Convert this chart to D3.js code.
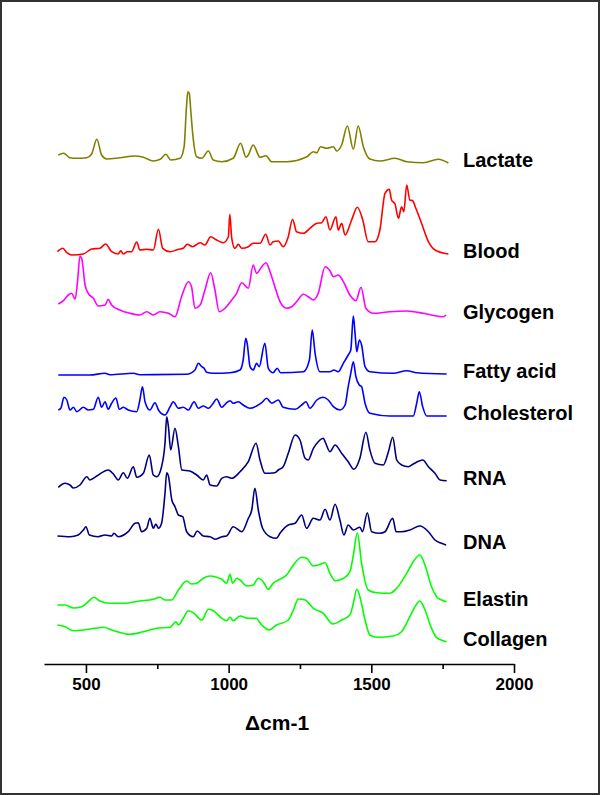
<!DOCTYPE html>
<html>
<head>
<meta charset="utf-8">
<script src="https://cdn.jsdelivr.net/npm/d3@7"></script>
<style>
  html, body { margin: 0; padding: 0; background: #fff; }
  svg { display: block; }
</style>
</head>
<body>
<svg id="chart" width="600" height="795"></svg>
<script>
// ---------------- DATA ----------------
const seriesNames = ["Lactate", "Blood", "Glycogen", "Fatty acid", "Cholesterol", "RNA", "DNA", "Elastin", "Collagen"];
const seriesColors = ["#808000", "#ff0000", "#ff00ff", "#0000ff", "#0000ff", "#000080", "#000080", "#00ff00", "#00ff00"];
const seriesOffsets = [501, 409, 347, 289, 248, 176, 119, 56, 22];
const xTicks = [500, 1000, 1500, 2000];
const xMinorTicks = [750, 1250, 1750];
const xTitle = "\u0394cm-1";

// [wavenumber (cm-1), relative intensity (a.u.)]
const lactate = [[403,8],[421,9.7],[444,5.3],[468,4.7],[503,5.3],[520,9],[538,23.7],[555,8],[573,4],[619,5.3],[672,7],[701,5.7],[736,2],[760,3.7],[780,8.7],[797,3],[830,4.7],[844,16.3],[852,55],[857,71.3],[862,69.7],[868,50],[874,29.7],[888,6.3],[906,4.7],[929,12],[946,3],[976,1.3],[1016,4.7],[1042,19.7],[1061,5.7],[1069,8],[1086,18],[1110,5.7],[1131,7.3],[1151,1.3],[1203,1.3],[1274,6.3],[1297,11.3],[1309,10.3],[1322,16.3],[1344,14.7],[1367,16.3],[1379,12],[1396,18],[1416,37],[1437,13.7],[1454,37],[1472,16.3],[1495,4],[1530,2],[1583,4.7],[1624,1.3],[1682,0.3],[1735,3.7],[1770,0]];
const blood = [[400,3.3],[419,6.7],[433,2.3],[450,0],[491,1],[520,6],[549,6.7],[569,11],[590,3.3],[613,1],[622,4.3],[631,1],[645,3.3],[660,3.3],[678,13],[689,5],[713,5.7],[736,5],[754,25.7],[769,6.7],[795,3.3],[824,5.7],[841,6.7],[855,10.7],[874,8.3],[900,12.3],[917,10],[937,18.3],[958,15],[981,12.3],[999,18.3],[1004,40.7],[1011,16.7],[1022,6.7],[1034,10.7],[1046,6.7],[1069,8.3],[1086,11.7],[1110,11.7],[1130,20.7],[1145,10],[1156,13.3],[1174,14],[1191,8.3],[1209,18.3],[1224,35.7],[1238,23.3],[1262,21.7],[1285,26.7],[1309,31.7],[1326,32.3],[1341,38.3],[1355,25],[1376,38.3],[1384,25],[1396,31.7],[1408,20],[1431,35],[1451,47.7],[1470,35],[1489,13.3],[1513,13.3],[1530,25],[1548,61.7],[1563,65.7],[1571,55],[1583,51],[1595,36.7],[1606,48.3],[1614,43.3],[1624,70],[1635,55],[1645,54.3],[1656,46.7],[1676,31.7],[1700,13.3],[1723,5],[1770,1]];
const glycogen = [[403,13],[421,16.3],[438,22],[450,23.7],[462,17.7],[471,37],[479,61],[485,58.7],[497,32],[508,23.7],[526,18.7],[543,11],[567,12],[578,17.7],[590,12],[619,7],[654,3.7],[689,2],[713,5.3],[736,2],[759,5.3],[789,3.7],[812,0.3],[835,20.3],[859,35.3],[870,30.3],[882,8.7],[900,12],[917,27],[937,44.3],[952,27],[967,5.3],[987,8.7],[1011,17],[1028,23.7],[1046,34.3],[1069,28.7],[1086,52],[1098,43.7],[1116,50.3],[1131,54.3],[1145,45.3],[1162,30.3],[1180,15.3],[1203,8.7],[1221,10.3],[1238,15.3],[1262,22.7],[1279,20.3],[1297,17],[1314,23.7],[1338,50.3],[1355,46.3],[1367,40.3],[1384,42],[1402,35.3],[1425,22],[1446,16.3],[1464,29.7],[1481,8.7],[1507,3.7],[1565,5.3],[1624,6],[1682,3.7],[1729,1],[1752,0.3],[1762,2]];
const fattyAcid = [[403,0],[514,0],[567,1.7],[584,0.3],[666,1.7],[689,0.3],[853,0.7],[882,5],[894,11.7],[906,8.3],[914,6.7],[923,2.7],[946,1.7],[1005,2.3],[1040,5],[1051,15],[1060,36.7],[1065,31.7],[1075,8.3],[1086,5],[1098,11.7],[1107,8.3],[1127,31.7],[1139,6.7],[1156,2.3],[1170,6.7],[1182,2.3],[1262,3.3],[1283,15],[1293,45],[1303,21.7],[1320,3.3],[1355,3.3],[1369,5],[1384,3.3],[1402,11.7],[1419,20],[1428,25],[1437,59],[1443,41.7],[1449,23.3],[1458,35],[1466,30],[1478,8.3],[1495,3.3],[1577,1.7],[1624,4.3],[1659,2.3],[1764,1]];
const cholesterol = [[403,6],[412,7.7],[423,18.7],[433,16],[444,6],[456,8.7],[468,4.3],[491,8.7],[508,6],[526,6.7],[543,18.7],[555,8.7],[567,14.3],[578,6.7],[590,12.7],[605,18],[617,6.7],[631,8.7],[648,6],[678,4.3],[689,16],[698,29.3],[707,14.3],[724,6],[742,13.3],[754,6],[777,1],[795,9.3],[806,14.3],[824,7.7],[841,8.7],[859,6],[879,14.3],[894,7.7],[911,10],[929,7.7],[946,12.7],[958,17],[976,8.7],[991,12.7],[1005,15.3],[1016,12.7],[1034,14.3],[1051,11],[1075,7.7],[1098,10],[1116,13.3],[1133,17.7],[1151,12.7],[1174,16],[1191,8.7],[1233,6.7],[1256,11],[1271,14.3],[1285,7.7],[1309,16],[1330,18.7],[1349,16],[1367,9.3],[1390,6],[1408,11],[1419,29.3],[1428,42.7],[1437,54.3],[1446,39.3],[1458,31],[1466,29.3],[1478,12.7],[1495,2.7],[1565,0],[1647,0],[1659,12.7],[1668,24.3],[1680,9.3],[1694,0],[1764,0]];
const rna = [[403,0.7],[427,4.7],[444,3],[456,0],[479,3],[503,11.3],[514,8],[538,12],[578,18],[596,14],[613,8],[631,15.3],[645,9.7],[666,21.3],[678,10.7],[701,14.7],[722,33],[736,13],[748,11.3],[765,21.3],[777,44.7],[783,71.3],[789,61.3],[797,38],[812,59.7],[824,41.3],[836,18],[864,17],[888,13],[911,8],[923,13],[935,3],[958,2],[976,9.7],[993,11.3],[1011,9.7],[1040,16.3],[1069,26.3],[1096,44.7],[1110,28],[1127,14.7],[1162,15.3],[1174,18],[1191,21.3],[1209,34.7],[1233,53],[1250,48],[1268,29.7],[1279,28],[1297,39.7],[1314,46.3],[1332,49.7],[1338,46.3],[1355,36.3],[1373,43],[1396,34.7],[1419,26.3],[1439,18.7],[1460,29.7],[1481,55.7],[1495,38],[1513,24.7],[1542,23],[1560,36.3],[1575,50.7],[1589,28],[1606,23],[1630,21.3],[1647,24],[1680,28],[1700,21.3],[1723,14.7],[1741,8],[1764,7.3]];
const dna = [[400,9],[444,8.3],[473,10],[491,15],[500,18.3],[512,10],[543,8.3],[567,10],[590,9],[598,11.7],[613,8.3],[648,13.3],[672,21.7],[683,22.3],[695,13.3],[713,16.7],[724,26.7],[736,16.7],[745,21],[754,16.7],[765,21.7],[777,51.7],[783,72.3],[789,69],[801,45],[812,38.3],[824,30],[839,28.3],[853,13.3],[876,8.3],[890,14],[911,9],[935,8.3],[952,5.7],[976,8.3],[993,9],[1016,18.3],[1046,13.3],[1069,26.7],[1081,35],[1092,56.7],[1104,35],[1119,16.7],[1145,8.3],[1168,6.7],[1180,11.7],[1209,20],[1233,21.7],[1256,30],[1273,16.7],[1297,26.7],[1320,25],[1338,35.7],[1355,25],[1373,40.7],[1390,25],[1404,10],[1419,20],[1437,15],[1460,17.7],[1469,13.3],[1486,32.3],[1501,13.3],[1530,11.7],[1548,13.3],[1575,26.7],[1587,13.3],[1606,13.3],[1635,15],[1670,19],[1700,13.3],[1723,5],[1746,1.7],[1762,0]];
const elastin = [[400,3],[427,3],[456,0],[485,1.3],[508,6.3],[528,10.7],[549,7],[584,4.7],[631,4.7],[689,7],[736,8.7],[759,10.7],[777,8],[800,8],[824,18],[853,27],[870,24],[888,24.7],[911,29.7],[935,32],[958,30.7],[976,28.7],[993,24.7],[1005,33.7],[1014,24.7],[1028,29.7],[1040,28],[1063,22],[1086,23],[1104,29.7],[1121,26.3],[1139,18.7],[1156,24.7],[1180,28.7],[1203,33],[1227,43],[1256,50.7],[1273,49.7],[1297,42],[1314,43],[1338,45.3],[1355,34.7],[1373,27.3],[1396,28.7],[1425,36.3],[1437,53],[1451,75],[1466,44.7],[1489,18],[1519,15.3],[1565,14.7],[1589,19.7],[1624,34.7],[1647,46.3],[1670,53],[1688,43],[1711,21.3],[1729,11.3],[1746,8],[1764,6.3]];
const collagen = [[400,17],[427,15.3],[456,11.3],[491,12],[532,13.7],[561,14.7],[590,12],[654,7.7],[701,10.3],[748,13.7],[795,14.7],[815,20.3],[824,17],[841,23.7],[859,31.3],[876,29.3],[906,22],[929,32.7],[946,31.3],[976,23.7],[993,21.3],[1005,24.7],[1016,21.3],[1040,26],[1069,23.7],[1096,23.7],[1116,17],[1142,12],[1168,17],[1209,22],[1227,32],[1244,43],[1268,42],[1297,33.7],[1332,28.7],[1365,18],[1396,22],[1425,27],[1437,38.7],[1449,52.7],[1460,45.3],[1478,22],[1495,7],[1519,4.7],[1577,6],[1606,10.3],[1635,25.3],[1653,35.3],[1670,41],[1688,32],[1711,13.7],[1729,4.3],[1752,1.3],[1764,0.3]];

const seriesData = [lactate, blood, glycogen, fattyAcid, cholesterol, rna, dna, elastin, collagen];

// ---------------- DRAW ----------------
const W = 600, H = 795;
const svg = d3.select("#chart");

// frame
svg.append("rect")
  .attr("x", 1).attr("y", 1).attr("width", W - 2).attr("height", H - 2)
  .attr("fill", "#fff").attr("stroke", "#333").attr("stroke-width", 2);

const x = d3.scaleLinear().domain([353, 2000]).range([44, 514]);
const y = d3.scaleLinear().domain([0, 600]).range([664, 64]);

const line = d3.line()
  .x(d => x(d[0]))
  .y(d => d[1])
  .curve(d3.curveMonotoneX);

const g = svg.append("g");

seriesData.forEach((data, i) => {
  const off = seriesOffsets[i];
  const pts = data.map(d => [d[0], y(off + d[1])]);
  g.append("path")
    .attr("d", line(pts))
    .attr("fill", "none")
    .attr("stroke", seriesColors[i])
    .attr("stroke-width", 1.6)
    .attr("stroke-linejoin", "round");
  const last = data[data.length - 1];
  g.append("text")
    .attr("x", 463)
    .attr("y", y(off + last[1]) - 3)
    .attr("dominant-baseline", "central")
    .attr("font-family", "Liberation Sans, Arial, sans-serif")
    .attr("font-weight", "bold")
    .attr("font-size", 20)
    .attr("fill", "#000")
    .text(seriesNames[i]);
});

// x axis
const axis = d3.axisBottom(x).tickValues(xTicks).tickSize(9).tickSizeOuter(0).tickPadding(5)
  .tickFormat(d3.format("d"));
const ax = svg.append("g").attr("transform", `translate(0,${y(0)})`).call(axis);
ax.select(".domain").attr("stroke", "#000").attr("stroke-width", 1.6);
ax.selectAll(".tick line").attr("stroke", "#000").attr("stroke-width", 1.6);
ax.selectAll(".tick text")
  .attr("font-family", "Liberation Sans, Arial, sans-serif")
  .attr("font-weight", "bold")
  .attr("font-size", 17)
  .attr("fill", "#000");

const minor = d3.axisBottom(x).tickValues(xMinorTicks).tickSize(5).tickSizeOuter(0).tickFormat("");
const mx = svg.append("g").attr("transform", `translate(0,${y(0)})`).call(minor);
mx.select(".domain").remove();
mx.selectAll(".tick line").attr("stroke", "#000").attr("stroke-width", 1.6);

svg.append("text")
  .attr("x", 277).attr("y", 722)
  .attr("text-anchor", "middle")
  .attr("dominant-baseline", "central")
  .attr("font-family", "Liberation Sans, Arial, sans-serif")
  .attr("font-weight", "bold")
  .attr("font-size", 21)
  .attr("fill", "#000")
  .text(xTitle);
</script>
</body>
</html>
